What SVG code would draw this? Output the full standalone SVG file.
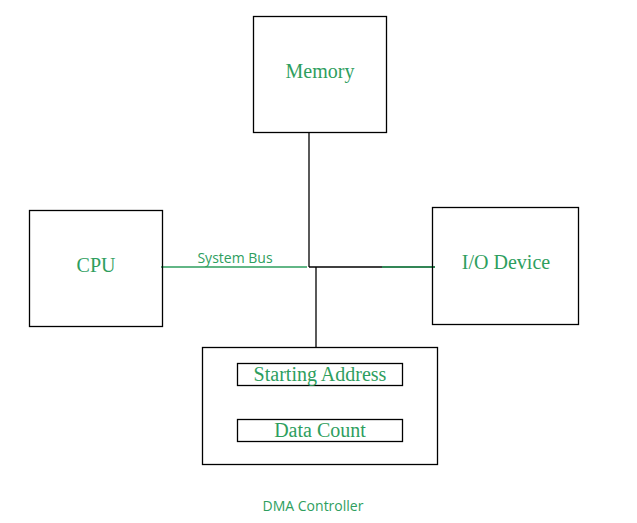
<svg xmlns="http://www.w3.org/2000/svg" width="637" height="523" viewBox="0 0 637 523">
<style>
.box{fill:none;stroke:#000;stroke-width:1.3}
.ln{stroke:#000;stroke-width:1.3;fill:none}
.t{font-family:"Liberation Serif",serif;font-size:20px;fill:#2e9e5e;text-anchor:middle}
.s{font-family:"Open Sans","DejaVu Sans",sans-serif;font-size:14px;fill:#2e9e5e;text-anchor:middle}
</style>
<rect width="637" height="523" fill="#fff"/>
<g id="connectors">
<line class="ln" x1="309" y1="132" x2="309" y2="267"/>
<line class="ln" x1="309" y1="267" x2="435" y2="267"/>
<line class="ln" x1="316" y1="267" x2="316" y2="347"/>
<line x1="161" y1="267" x2="307" y2="267" stroke="#2e9e5e" stroke-width="1.3"/>
<line x1="382" y1="267" x2="435" y2="267" stroke="#2e9e5e" stroke-width="1.3"/>
<text class="s" x="235" y="263" font-size="13.5">System Bus</text>
</g>
<g id="memory">
<rect class="box" x="253.5" y="16.5" width="133" height="116"/>
<text class="t" x="320" y="78">Memory</text>
</g>
<g id="cpu">
<rect class="box" x="29.5" y="210.5" width="133" height="116"/>
<text class="t" x="96" y="272">CPU</text>
</g>
<g id="io">
<rect class="box" x="432.5" y="207.5" width="146" height="117"/>
<text class="t" x="506" y="269">I/O Device</text>
</g>
<g id="dma">
<rect class="box" x="202.5" y="347.5" width="235" height="117"/>
<rect class="box" x="237.5" y="363.5" width="165" height="22"/>
<text class="t" x="320" y="381">Starting Address</text>
<rect class="box" x="237.5" y="419.5" width="165" height="22"/>
<text class="t" x="320" y="437">Data Count</text>
<text class="s" x="313" y="511">DMA Controller</text>
</g>
</svg>
